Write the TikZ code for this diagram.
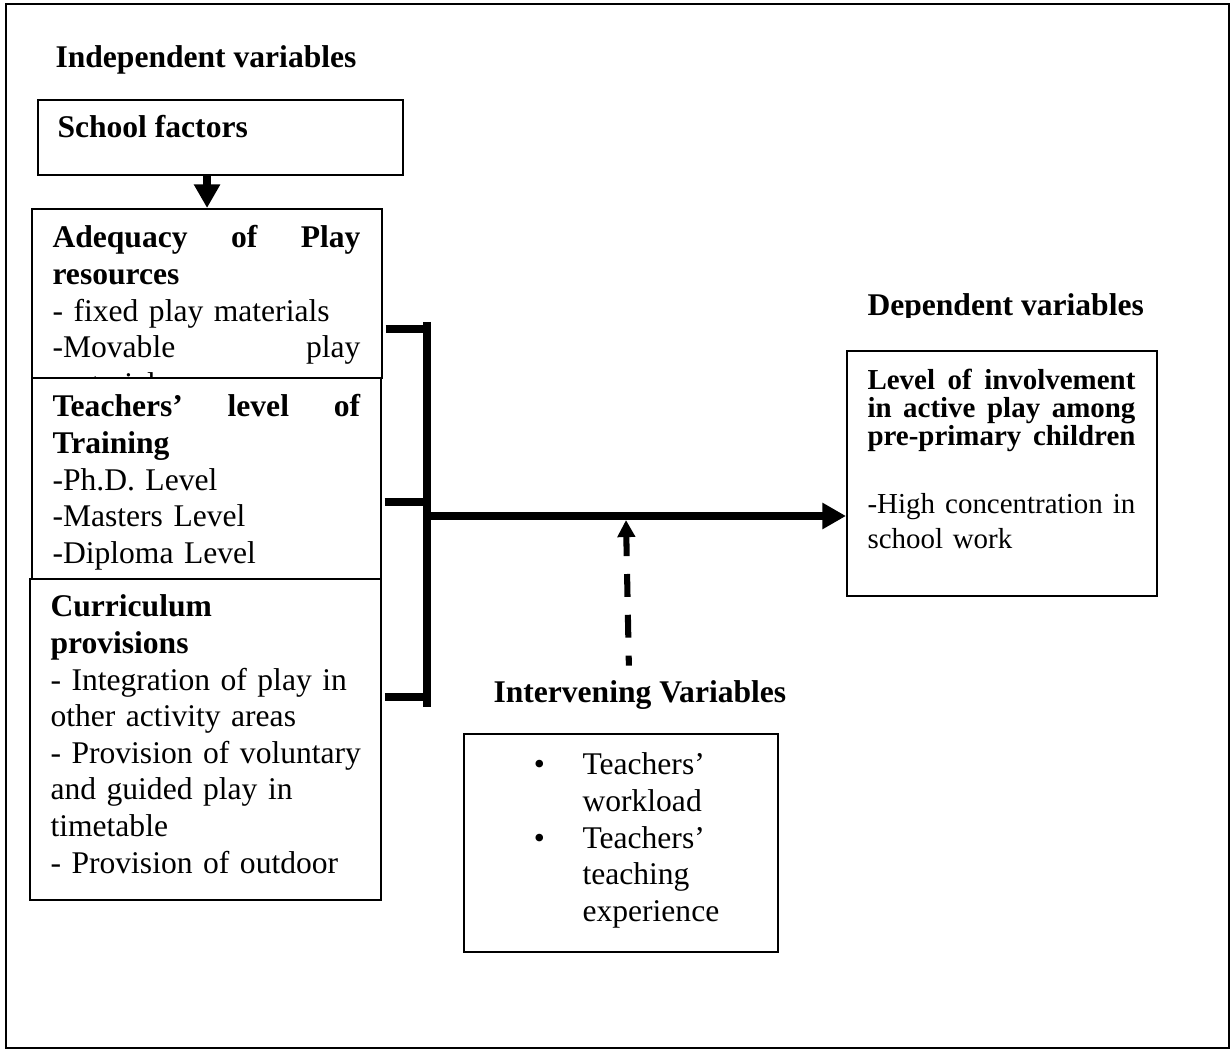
\documentclass[tikz,border=0pt]{standalone}
\usepackage{fontspec}
\setmainfont{Liberation Serif}
\usetikzlibrary{arrows.meta, positioning, calc}

\begin{document}
\begin{tikzpicture}[
    x=0.38pt, y=-0.38pt,
    box/.style={rectangle, draw, line width=0.8pt, fill=white, inner sep=0pt, anchor=north west},
    head/.style={anchor=base west, inner sep=0pt, font=\fontsize{12}{13.9}\selectfont\bfseries},
    body/.style={anchor=base west, inner sep=0pt, text width=117pt, align=left, font=\fontsize{12}{13.9}\selectfont},
    deptext/.style={anchor=base west, inner sep=0pt, text width=101.8pt, align=left},
    bar/.style={line width=3pt},
    arrow/.style={line width=3pt, -{Triangle[length=9pt, width=9.5pt]}},
    dasharrow/.style={line width=2.3pt, dash pattern=on 8.7pt off 6.8pt, dash phase=4.9pt, -{Triangle[length=6.5pt, width=6.5pt]}}
]
\useasboundingbox (0,0) rectangle (1232,1051);

% === Frame ===
\draw[line width=0.8pt] (6,4) rectangle (1229,1048);

% === Independent variables ===
\node[head] (indlabel) at (55,68) {Independent variables};

\node[box, minimum width=138.7pt, minimum height=28.5pt] (school) at (37,99) {};
\node[head] (schooltext) at (57,138) {School factors};

% Adequacy (text runs past the box, the next box hides it)
\node[box, minimum width=133pt, minimum height=64.2pt] (adequacy) at (31,208) {};
\node[body] (adequacytext) at (52,248) {\textbf{Adequacy \hfill of \hfill Play}\\ \textbf{resources}\\ - fixed play materials\\ -Movable \hfill play\\ materials};

\node[box, minimum width=132.6pt, minimum height=76.4pt] (teachers) at (31,377) {};
\node[body] (teacherstext) at (52,417) {\textbf{Teachers’ \hfill level \hfill of}\\ \textbf{Training}\\ -Ph.D. Level\\ -Masters Level\\ -Diploma Level};

\node[box, minimum width=133.4pt, minimum height=122pt] (curriculum) at (29,578) {};
\node[body, text width=128pt] (curriculumtext) at (50,617) {\textbf{Curriculum}\\ \textbf{provisions}\\ - Integration of play in\\ other activity areas\\ - Provision of voluntary\\ and guided play in\\ timetable\\ - Provision of outdoor};

\draw[arrow] (school.south -| adequacy.north) -- (adequacy.north);

% === Bracket and main arrow ===
\coordinate (bartop) at (427,322);
\coordinate (barbot) at (427,707);
\coordinate (barmid) at (427,516);
\draw[bar] (bartop) -- (barbot);
\foreach \src/\yy in {adequacy/329, teachers/502, curriculum/697}
    \draw[bar] ([xshift=1pt]\src.east |- 0,\yy) -- (bartop |- 0,\yy);

% === Dependent variables ===
\begin{scope}
    \clip (850,280) rectangle (1160,318);
    \node[head] (deplabel) at (867,316) {Dependent variables};
\end{scope}

\node[box, minimum width=117.8pt, minimum height=93.1pt] (dependent) at (846,350) {};
\node[deptext, font=\fontsize{11}{10.6}\selectfont\bfseries] (dephead) at (867,390) {Level \hfill of \hfill involvement\\ in \hfill active \hfill play \hfill among\\ pre-primary \hfill children};
\node[deptext, font=\fontsize{11}{13.3}\selectfont] (depbody) at (867,514) {-High \hfill concentration \hfill in\\ school work};

\draw[arrow] (barmid) -- (barmid -| dependent.west);

% === Intervening variables ===
\node[head] (interv) at (493,703) {Intervening Variables};
\coordinate (join) at (626,520);
\draw[dasharrow] ([shift={(-11,-15)}]interv.north) -- (join);

\node[box, minimum width=119.3pt, minimum height=82.8pt] (intervbox) at (463,733) {};
\node[body, text width=70pt] (intervlist) at (582,775) {\leavevmode\llap{•\hspace{14.3pt}}Teachers’\\ workload\\ \leavevmode\llap{•\hspace{14.3pt}}Teachers’\\ teaching\\ experience};

\end{tikzpicture}
\end{document}
